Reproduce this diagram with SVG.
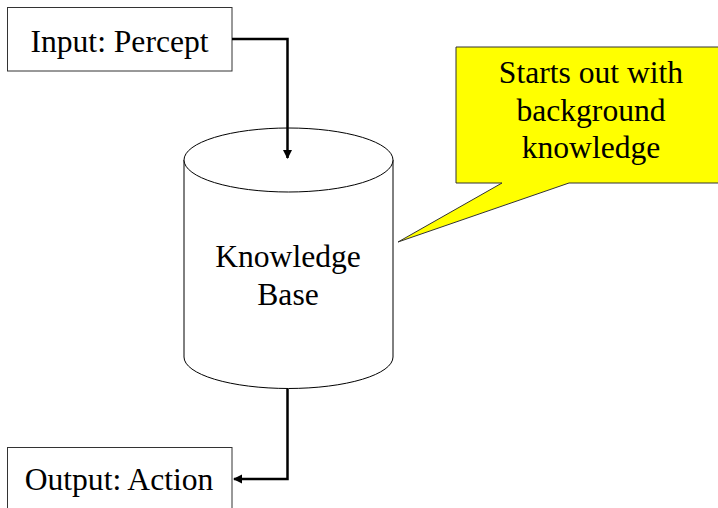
<svg xmlns="http://www.w3.org/2000/svg" width="718" height="508" viewBox="0 0 718 508">
<defs>
<style>
.t{font-family:"Liberation Serif","Times New Roman",serif;font-size:31.6px;fill:#000;text-anchor:middle}
.box{fill:#fff;stroke:#333;stroke-width:1}
.conn{fill:none;stroke:#000;stroke-width:2.5}
</style>
<marker id="ah" markerWidth="10" markerHeight="10" refX="8" refY="5" orient="auto" markerUnits="userSpaceOnUse">
<path d="M0,0.5 L9,5 L0,9.5 Z" fill="#000"/>
</marker>
</defs>
<rect width="718" height="508" fill="#fff"/>
<g id="callout">
<path d="M456,47 H720 V183 H569 L398,242 L502,183 H456 Z" fill="#ffff00" stroke="#333" stroke-width="1"/>
<text class="t" x="591" y="83">Starts out with</text>
<text class="t" x="591" y="120.5">background</text>
<text class="t" x="591" y="158">knowledge</text>
</g>
<g id="kb">
<path d="M184,160 V357 A104.5,31.5 0 0 0 393,357 V160" fill="#fff" stroke="#000" stroke-width="1"/>
<ellipse cx="288.5" cy="160" rx="104.5" ry="32" fill="#fff" stroke="#000" stroke-width="1"/>
<text class="t" x="288" y="267">Knowledge</text>
<text class="t" x="288" y="304.5">Base</text>
</g>
<g id="input">
<rect class="box" x="7.5" y="7.5" width="224.5" height="63.5"/>
<text class="t" x="119.5" y="52">Input: Percept</text>
</g>
<g id="output">
<rect class="box" x="7.5" y="447.5" width="224.5" height="80"/>
<text class="t" x="119" y="490">Output: Action</text>
</g>
<g id="connectors">
<path class="conn" d="M232,39 H287.5 V158" marker-end="url(#ah)"/>
<path class="conn" d="M287.5,389 V479 H234" marker-end="url(#ah)"/>
</g>
</svg>
